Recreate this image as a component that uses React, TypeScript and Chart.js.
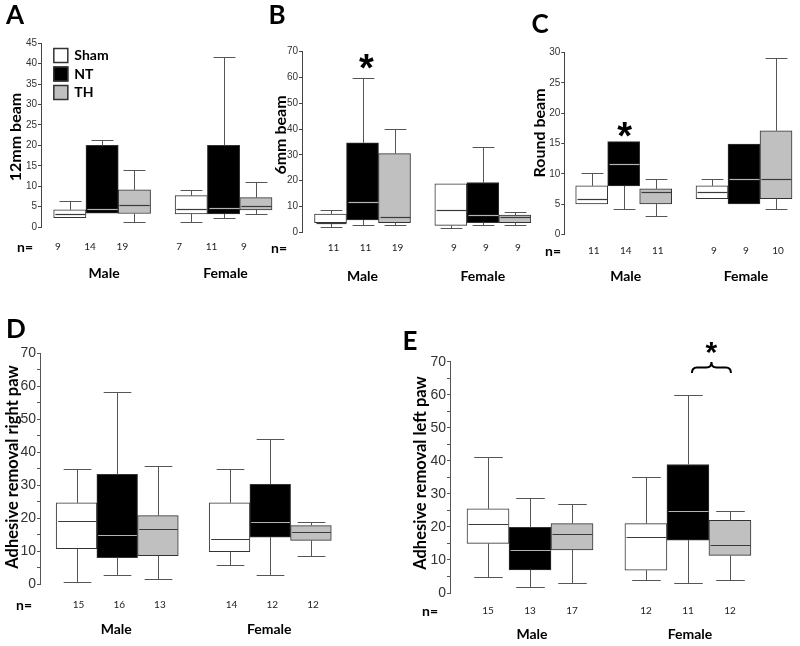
import React, { useEffect, useRef } from 'react';
import { Chart, registerables } from 'chart.js';

Chart.register(...registerables);

const groupLabels = ['Male', 'Female'];
const legendLabels = ['Sham', 'NT', 'TH'];
const fills = ['#ffffff', '#000000', '#c0c0c0'];
const medianColors = ['#3a3a3a', '#b4b4b4', '#3a3a3a'];

// Order of every array: Male Sham, Male NT, Male TH, Female Sham, Female NT, Female TH
// A: 12mm beam
const aMin = [2.3, 3.4, 1.2, 1.2, 2.1, 3.2];
const aQ1 = [2.3, 3.4, 3.3, 3.2, 3.2, 4.2];
const aMed = [3.3, 4.3, 5.4, 4.3, 4.6, 5.2];
const aQ3 = [4.2, 20, 9.1, 7.7, 20, 7.2];
const aMax = [6.3, 21.2, 14, 9, 41.7, 11];
const aN = [9, 14, 19, 7, 11, 9];

// B: 6mm beam
const bMin = [1.9, 2.7, 2.9, 1.7, 2.7, 2.7];
const bQ1 = [3.7, 4.8, 3.7, 2.7, 3.7, 3.7];
const bMed = [3.7, 11.7, 5.8, 8.6, 6.7, 5.8];
const bQ3 = [7.1, 34.7, 30.5, 18.8, 19.3, 6.7];
const bMax = [8.6, 60, 40, 18.8, 33, 7.9];
const bN = [11, 11, 19, 9, 9, 9];

// C: Round beam
const cMin = [5.0, 4.1, 3.0, 5.9, 5.0, 4.1];
const cQ1 = [5.0, 8.0, 5.0, 5.9, 5.0, 5.9];
const cMed = [5.9, 11.6, 7.0, 7.0, 9.1, 9.1];
const cQ3 = [8.0, 15.3, 7.5, 8.0, 14.9, 17.1];
const cMax = [10.1, 15.3, 9.1, 9.1, 14.9, 29.1];
const cN = [11, 14, 11, 9, 9, 10];

// D: Adhesive removal right paw
const dMin = [0.6, 2.7, 1.7, 5.8, 2.7, 8.7];
const dQ1 = [10.8, 8.1, 8.7, 9.9, 14.3, 13.3];
const dMed = [19.3, 14.8, 16.9, 13.6, 18.9, 15.8];
const dQ3 = [24.7, 33.3, 20.8, 24.7, 30.3, 17.8];
const dMax = [34.8, 58.2, 35.9, 34.8, 43.9, 18.9];
const dN = [15, 16, 13, 14, 12, 12];

// E: Adhesive removal left paw
const eMin = [4.9, 1.9, 2.9, 3.9, 2.9, 3.9];
const eQ1 = [15.0, 7.0, 13.0, 6.9, 16.0, 11.4];
const eMed = [21.0, 13.0, 18.0, 17.0, 24.9, 14.5];
const eQ3 = [25.5, 19.9, 21.0, 21.0, 38.9, 22.0];
const eMax = [41.1, 28.9, 26.8, 35.0, 60.0, 24.9];
const eN = [15, 13, 17, 12, 11, 12];

const GAP = 0.76;
const positions = [1, 2, 3, 4 + GAP, 5 + GAP, 6 + GAP];

type Star = { i: number; dx: number; y: number; size: number };
type PanelCfg = {
  key: string;
  left: number; top: number; width: number; height: number;
  axisX: number; yTop: number; yBottom: number; yMax: number; step: number; labelEvery: number;
  tickSize: number; tickLen: number; axisColor: string;
  xMin: number; unit: number;
  min: number[]; q1: number[]; med: number[]; q3: number[]; max: number[]; n: number[];
  letter: string; letterX: number; letterY: number;
  title: string; titleX: number; titleY: number; titleSize: number;
  nLabelX: number; nY: number; nOffset: number;
  groupY: number; groupOffset: number;
  stars: Star[];
  brace?: boolean;
  legend?: boolean;
};

const panels: PanelCfg[] = [
  {
    key: 'A', left: 0, top: 0, width: 280, height: 300,
    axisX: 41, yTop: 43.3, yBottom: 227, yMax: 45, step: 5, labelEvery: 5,
    tickSize: 10, tickLen: 3, axisColor: '#444',
    xMin: 0.108, unit: 32.3,
    min: aMin, q1: aQ1, med: aMed, q3: aQ3, max: aMax, n: aN,
    letter: 'A', letterX: 15, letterY: 16,
    title: '12mm beam', titleX: 16, titleY: 137, titleSize: 16,
    nLabelX: 25, nY: 247, nOffset: -12,
    groupY: 273, groupOffset: 2,
    stars: [], legend: true,
  },
  {
    key: 'B', left: 265, top: 0, width: 270, height: 300,
    axisX: 37, yTop: 51.7, yBottom: 232.3, yMax: 70, step: 10, labelEvery: 10,
    tickSize: 10, tickLen: 3, axisColor: '#444',
    xMin: 0.109, unit: 32,
    min: bMin, q1: bQ1, med: bMed, q3: bQ3, max: bMax, n: bN,
    letter: 'B', letterX: 12, letterY: 16,
    title: '6mm beam', titleX: 16, titleY: 135, titleSize: 16,
    nLabelX: 14, nY: 248, nOffset: 3,
    groupY: 276, groupOffset: 0,
    stars: [{ i: 1, dx: 4, y: 59, size: 38 }],
  },
  {
    key: 'C', left: 530, top: 0, width: 270, height: 300,
    axisX: 34.3, yTop: 52.7, yBottom: 234.3, yMax: 30, step: 5, labelEvery: 5,
    tickSize: 10, tickLen: 3, axisColor: '#444',
    xMin: 0.144, unit: 32,
    min: cMin, q1: cQ1, med: cMed, q3: cQ3, max: cMax, n: cN,
    letter: 'C', letterX: 10, letterY: 25,
    title: 'Round beam', titleX: 10, titleY: 133, titleSize: 16,
    nLabelX: 23, nY: 251, nOffset: 2,
    groupY: 276, groupOffset: 2,
    stars: [{ i: 1, dx: 1, y: 127, size: 38 }],
  },
  {
    key: 'D', left: 0, top: 300, width: 400, height: 346,
    axisX: 40, yTop: 53.3, yBottom: 284.3, yMax: 70, step: 5, labelEvery: 10,
    tickSize: 14, tickLen: 3, axisColor: '#555',
    xMin: 0.103, unit: 40.7,
    min: dMin, q1: dQ1, med: dMed, q3: dQ3, max: dMax, n: dN,
    letter: 'D', letterX: 16, letterY: 30,
    title: 'Adhesive removal right paw', titleX: 13, titleY: 167, titleSize: 16.5,
    nLabelX: 24, nY: 305, nOffset: 2,
    groupY: 329, groupOffset: -1,
    stars: [],
  },
  {
    key: 'E', left: 400, top: 300, width: 400, height: 346,
    axisX: 50, yTop: 61.7, yBottom: 293, yMax: 70, step: 5, labelEvery: 10,
    tickSize: 14, tickLen: 3, axisColor: '#555',
    xMin: 0.095, unit: 42,
    min: eMin, q1: eQ1, med: eMed, q3: eQ3, max: eMax, n: eN,
    letter: 'E', letterX: 10, letterY: 42,
    title: 'Adhesive removal left paw', titleX: 21, titleY: 173, titleSize: 16.5,
    nLabelX: 30, nY: 311, nOffset: 0,
    groupY: 334, groupOffset: 2,
    stars: [], brace: true,
  },
];

const LABEL_FONT = 'Lato, "Open Sans", sans-serif';

function makePlugin(p: PanelCfg) {
  return {
    id: 'boxExtras' + p.key,
    afterDatasetsDraw(chart: any) {
      const ctx = chart.ctx as CanvasRenderingContext2D;
      const xs = chart.scales.x;
      const ys = chart.scales.y;
      const unitPx = xs.getPixelForValue(2) - xs.getPixelForValue(1);
      ctx.save();
      ctx.lineWidth = 1;
      positions.forEach((pos, i) => {
        const cx = Math.round(xs.getPixelForValue(pos)) + 0.5;
        const half = unitPx / 2;
        const cap = unitPx * 0.34;
        const yQ3 = ys.getPixelForValue(p.q3[i]);
        const yMax = Math.round(ys.getPixelForValue(p.max[i])) + 0.5;
        const yQ1 = ys.getPixelForValue(p.q1[i]);
        const yMin = Math.round(ys.getPixelForValue(p.min[i])) + 0.5;
        ctx.strokeStyle = '#555';
        if (p.max[i] > p.q3[i]) {
          ctx.beginPath();
          ctx.moveTo(cx, yQ3);
          ctx.lineTo(cx, yMax);
          ctx.moveTo(cx - cap, yMax);
          ctx.lineTo(cx + cap, yMax);
          ctx.stroke();
        }
        if (p.min[i] < p.q1[i]) {
          ctx.beginPath();
          ctx.moveTo(cx, yQ1);
          ctx.lineTo(cx, yMin);
          ctx.moveTo(cx - cap, yMin);
          ctx.lineTo(cx + cap, yMin);
          ctx.stroke();
        }
        const yMed = Math.round(ys.getPixelForValue(p.med[i])) + 0.5;
        ctx.strokeStyle = medianColors[i % 3];
        ctx.lineWidth = 1.2;
        ctx.beginPath();
        ctx.moveTo(cx - half + 1, yMed);
        ctx.lineTo(cx + half - 1, yMed);
        ctx.stroke();
        ctx.lineWidth = 1;
      });
      ctx.restore();
    },
    afterDraw(chart: any) {
      const ctx = chart.ctx as CanvasRenderingContext2D;
      const xs = chart.scales.x;
      const px = (i: number) => xs.getPixelForValue(positions[i]);
      ctx.save();
      ctx.fillStyle = '#000';
      ctx.textAlign = 'center';
      ctx.textBaseline = 'middle';
      // panel letter
      ctx.font = `bold 26px ${LABEL_FONT}`;
      ctx.fillText(p.letter, p.letterX, p.letterY);
      // axis title
      ctx.save();
      ctx.translate(p.titleX, p.titleY);
      ctx.rotate(-Math.PI / 2);
      ctx.font = `bold ${p.titleSize}px ${LABEL_FONT}`;
      ctx.fillText(p.title, 0, 0);
      ctx.restore();
      // n= row
      ctx.font = `bold 14px ${LABEL_FONT}`;
      ctx.fillText('n=', p.nLabelX, p.nY);
      ctx.font = `10px ${LABEL_FONT}`;
      ctx.fillStyle = '#222';
      p.n.forEach((v, i) => ctx.fillText(String(v), px(i) + p.nOffset, p.nY));
      ctx.fillStyle = '#000';
      // group labels
      ctx.font = `bold 14px ${LABEL_FONT}`;
      groupLabels.forEach((g, gi) => ctx.fillText(g, px(gi * 3 + 1) + p.groupOffset, p.groupY));
      // stars
      p.stars.forEach((s) => {
        ctx.font = `bold ${s.size}px "Liberation Sans", Arial, sans-serif`;
        ctx.textBaseline = 'alphabetic';
        ctx.fillText('*', px(s.i) + s.dx, s.y + 0.58 * s.size);
        ctx.textBaseline = 'middle';
      });
      // brace with star (panel E)
      if (p.brace) {
        const x1 = px(4) + 4;
        const x2 = px(5) + 1;
        const xm = (x1 + x2) / 2;
        const yBase = 73;
        const yLine = 67.5;
        const yTip = 62;
        ctx.strokeStyle = '#000';
        ctx.lineWidth = 2;
        ctx.beginPath();
        ctx.moveTo(x1, yBase);
        ctx.quadraticCurveTo(x1, yLine, x1 + 5, yLine);
        ctx.lineTo(xm - 5, yLine);
        ctx.quadraticCurveTo(xm, yLine, xm, yTip);
        ctx.quadraticCurveTo(xm, yLine, xm + 5, yLine);
        ctx.lineTo(x2 - 5, yLine);
        ctx.quadraticCurveTo(x2, yLine, x2, yBase);
        ctx.stroke();
        const size = 30;
        ctx.font = `bold ${size}px "Liberation Sans", Arial, sans-serif`;
        ctx.textBaseline = 'alphabetic';
        ctx.fillText('*', xm, 45 + 0.58 * size);
        ctx.textBaseline = 'middle';
      }
      // legend (panel A)
      if (p.legend) {
        const lx = px(0) - 16.5;
        const rowsY = [48, 66.5, 85];
        legendLabels.forEach((lab, i) => {
          ctx.fillStyle = fills[i];
          ctx.fillRect(lx, rowsY[i], 15, 15);
          ctx.strokeStyle = '#333';
          ctx.lineWidth = 1.5;
          ctx.strokeRect(lx + 0.5, rowsY[i] + 0.5, 14, 14);
          ctx.fillStyle = '#000';
          ctx.textAlign = 'left';
          ctx.font = `bold 14px ${LABEL_FONT}`;
          ctx.fillText(lab, lx + 21, rowsY[i] + 7.5);
        });
      }
      ctx.restore();
    },
  };
}

function PanelChart({ p }: { p: PanelCfg }) {
  const ref = useRef<HTMLCanvasElement>(null);
  useEffect(() => {
    const canvas = ref.current;
    if (!canvas) return;
    const chartRight = p.width - 4;
    const xMax = p.xMin + (chartRight - p.axisX) / p.unit;
    const chart = new Chart(canvas, {
      type: 'bar',
      data: {
        datasets: [
          {
            data: positions.map((x, i) => ({ x, y: [p.q1[i], p.q3[i]] })) as any,
            backgroundColor: positions.map((_, i) => fills[i % 3]),
            borderColor: '#333',
            borderWidth: 1,
            borderSkipped: false,
            barPercentage: 1,
            categoryPercentage: 1,
          },
        ],
      },
      options: {
        animation: false,
        responsive: false,
        devicePixelRatio: 1,
        layout: {
          padding: { left: 0, right: p.width - chartRight, top: p.yTop, bottom: p.height - p.yBottom },
        },
        plugins: { legend: { display: false }, tooltip: { enabled: false } },
        scales: {
          x: {
            type: 'linear',
            display: false,
            offset: false,
            min: p.xMin,
            max: xMax,
            afterBuildTicks: (s: any) => {
              s.ticks = [];
            },
          },
          y: {
            type: 'linear',
            min: 0,
            max: p.yMax,
            afterFit: (s: any) => {
              s.width = p.axisX;
            },
            ticks: {
              stepSize: p.step,
              autoSkip: false,
              padding: 1,
              color: '#333',
              font: { family: '"Liberation Sans", Arial, sans-serif', size: p.tickSize },
              callback: (v: any) => (Number(v) % p.labelEvery === 0 ? String(v) : ''),
            },
            grid: {
              drawOnChartArea: false,
              drawTicks: true,
              tickLength: p.tickLen,
              color: p.axisColor,
            },
            border: { display: true, color: p.axisColor, width: 1 },
          },
        },
      } as any,
      plugins: [makePlugin(p)],
    });
    return () => chart.destroy();
  }, [p]);
  return (
    <canvas
      ref={ref}
      width={p.width}
      height={p.height}
      style={{ position: 'absolute', left: p.left, top: p.top, width: p.width, height: p.height }}
    />
  );
}

export default function App() {
  return (
    <div
      style={{
        position: 'fixed',
        left: 0,
        top: 0,
        width: 800,
        height: 646,
        background: '#ffffff',
        overflow: 'hidden',
      }}
    >
      {panels.map((p) => (
        <PanelChart key={p.key} p={p} />
      ))}
    </div>
  );
}
